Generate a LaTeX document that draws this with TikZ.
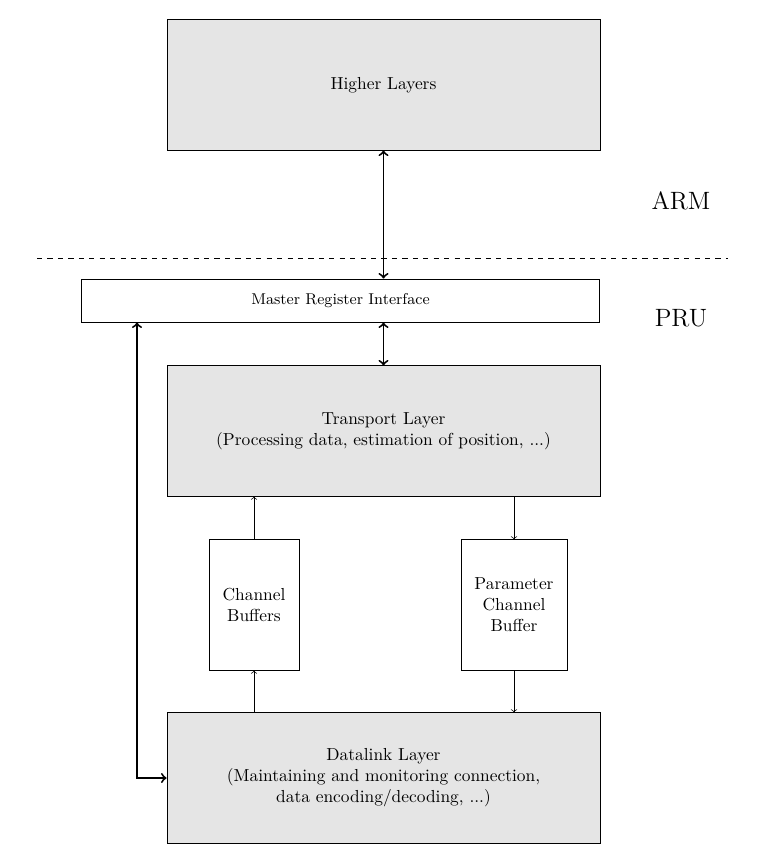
\documentclass[tikz,border=0pt]{standalone}
\usepackage{tikz}
\usetikzlibrary{arrows, positioning}

\begin{document}
\begin{tikzpicture}[x=0.0202cm, y=-0.0202cm, >=to, line width=0.5pt,
    layer/.style={draw, fill=black!10, minimum width=8.75cm, minimum height=2.63cm, align=center},
    buffer/.style={draw, minimum height=2.63cm, align=center},
    link/.style={<->, line width=1.1pt},
    feed/.style={->, line width=0.4pt}]
                            \useasboundingbox (0,0) rectangle (770,857);
                            % ARM side
                            \node [layer] (higher) at (383.5, 85) {Higher Layers};
                            \node [font=\Large] (arm) at (681, 201) {ARM};
                            \draw [dashed] (37, 258) -- (728, 258);
                            % PRU side
                            \node [font=\Large] (pru) at (681, 318) {PRU};
                            \node [draw, minimum width=10.48cm, minimum height=0.87cm, font=\small] (master) at (340.5, 300.5) {Master Register Interface};
                            \node [layer] (transport) at (383.5, 431) {Transport Layer\\(Processing data, estimation of position, ...)};
                            \node [buffer, minimum width=1.82cm] (chbuf) at (254, 605) {Channel\\Buffers};
                            \node [buffer, minimum width=2.14cm] (parbuf) at (514, 605) {Parameter\\Channel\\Buffer};
                            \node [layer] (datalink) at (383.5, 778) {Datalink Layer\\(Maintaining and monitoring connection,\\data encoding/decoding, ...)};
                            \coordinate (bend) at (137, 778);

                            \path [link] (higher.south) edge (higher.south |- master.north);
                            \path [link] (transport.north |- master.south) edge (transport.north);
                            \draw [link] (bend |- master.south) -- (bend) -- (datalink.west);

                            \path [feed] (chbuf.north) edge (chbuf.north |- transport.south);
                            \path [feed] (chbuf.south |- datalink.north) edge (chbuf.south);
                            \path [feed] (parbuf.north |- transport.south) edge (parbuf.north);
                            \path [feed] (parbuf.south) edge (parbuf.south |- datalink.north);
                        \end{tikzpicture}
\end{document}
